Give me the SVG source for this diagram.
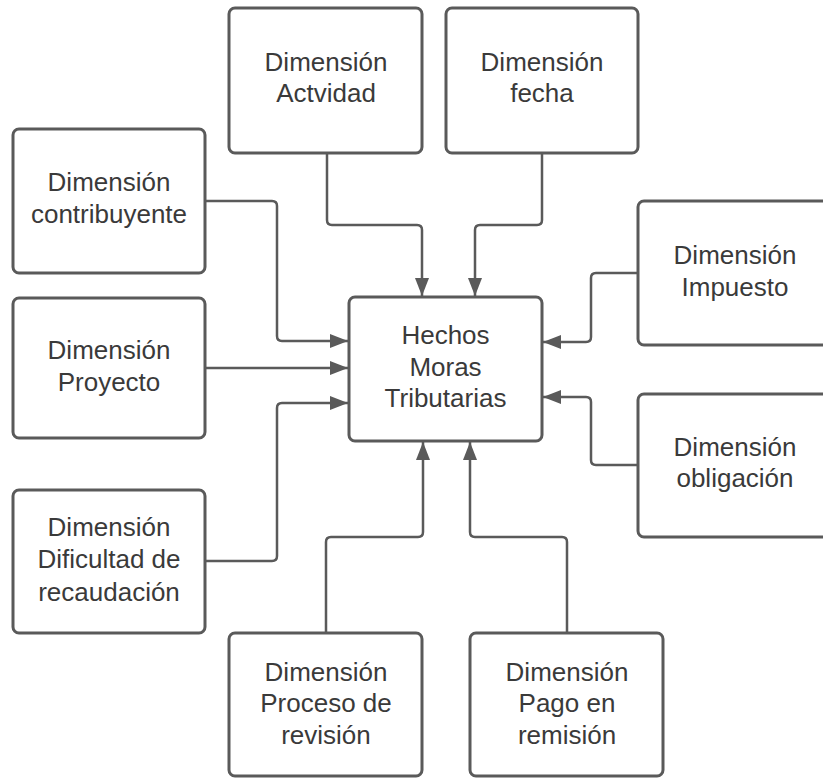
<svg xmlns="http://www.w3.org/2000/svg" width="823" height="778" viewBox="0 0 823 778">
<style>
.box{fill:#fff;stroke:#5a5a5a;stroke-width:3}
.lbl{font-family:"Liberation Sans",Arial,sans-serif;font-size:26px;fill:#3a3a3a;text-anchor:middle}
.conn path{fill:none;stroke:#5a5a5a;stroke-width:2.5}
</style>
<defs>
<marker id="arr" markerUnits="userSpaceOnUse" markerWidth="18" markerHeight="14" refX="18" refY="7" orient="auto">
<path d="M0,0 L18,7 L0,14 z" fill="#5a5a5a"/>
</marker>
</defs>
<rect width="823" height="778" fill="#fff"/>
<g class="conn">
<path marker-end="url(#arr)" d="M327,153 V220 Q327,225 332,225 H417 Q422,225 422,230 V296"/>
<path marker-end="url(#arr)" d="M542,153 V220 Q542,225 537,225 H480 Q475,225 475,230 V296"/>
<path marker-end="url(#arr)" d="M205,201 H272 Q277,201 277,206 V336 Q277,341 282,341 H348"/>
<path marker-end="url(#arr)" d="M205,368 H348"/>
<path marker-end="url(#arr)" d="M205,561 H272 Q277,561 277,556 V408 Q277,403 282,403 H348"/>
<path marker-end="url(#arr)" d="M638,273 H596 Q591,273 591,278 V337 Q591,342 586,342 H543"/>
<path marker-end="url(#arr)" d="M638,465 H596 Q591,465 591,460 V402 Q591,397 586,397 H543"/>
<path marker-end="url(#arr)" d="M326,633 V542 Q326,537 331,537 H418 Q423,537 423,532 V442"/>
<path marker-end="url(#arr)" d="M567,633 V542 Q567,537 562,537 H475 Q470,537 470,532 V442"/>
</g>
<g id="actividad"><rect class="box" x="229" y="8" width="193" height="145" rx="6"/><text class="lbl" x="326" y="71">Dimensión</text><text class="lbl" x="326" y="102">Actvidad</text></g>
<g id="fecha"><rect class="box" x="446" y="8" width="192" height="145" rx="6"/><text class="lbl" x="542" y="71">Dimensión</text><text class="lbl" x="542" y="102">fecha</text></g>
<g id="contribuyente"><rect class="box" x="13" y="129" width="192" height="144" rx="6"/><text class="lbl" x="109" y="191">Dimensión</text><text class="lbl" x="109" y="223">contribuyente</text></g>
<g id="proyecto"><rect class="box" x="13" y="298" width="192" height="140" rx="6"/><text class="lbl" x="109" y="359">Dimensión</text><text class="lbl" x="109" y="391">Proyecto</text></g>
<g id="dificultad"><rect class="box" x="13" y="490" width="192" height="143" rx="6"/><text class="lbl" x="109" y="536">Dimensión</text><text class="lbl" x="109" y="568">Dificultad de</text><text class="lbl" x="109" y="601">recaudación</text></g>
<g id="hechos"><rect class="box" x="349" y="297" width="193" height="144" rx="6"/><text class="lbl" x="445.5" y="344">Hechos</text><text class="lbl" x="445.5" y="376">Moras</text><text class="lbl" x="445.5" y="407">Tributarias</text></g>
<g id="impuesto"><rect class="box" x="638" y="201" width="194" height="144" rx="6"/><text class="lbl" x="735" y="264">Dimensión</text><text class="lbl" x="735" y="296">Impuesto</text></g>
<g id="obligacion"><rect class="box" x="638" y="394" width="194" height="143" rx="6"/><text class="lbl" x="735" y="456">Dimensión</text><text class="lbl" x="735" y="487">obligación</text></g>
<g id="proceso"><rect class="box" x="229" y="633" width="193" height="143" rx="6"/><text class="lbl" x="326" y="681">Dimensión</text><text class="lbl" x="326" y="712">Proceso de</text><text class="lbl" x="326" y="744">revisión</text></g>
<g id="pago"><rect class="box" x="470" y="633" width="193" height="143" rx="6"/><text class="lbl" x="567" y="681">Dimensión</text><text class="lbl" x="567" y="712">Pago en</text><text class="lbl" x="567" y="744">remisión</text></g>
</svg>
